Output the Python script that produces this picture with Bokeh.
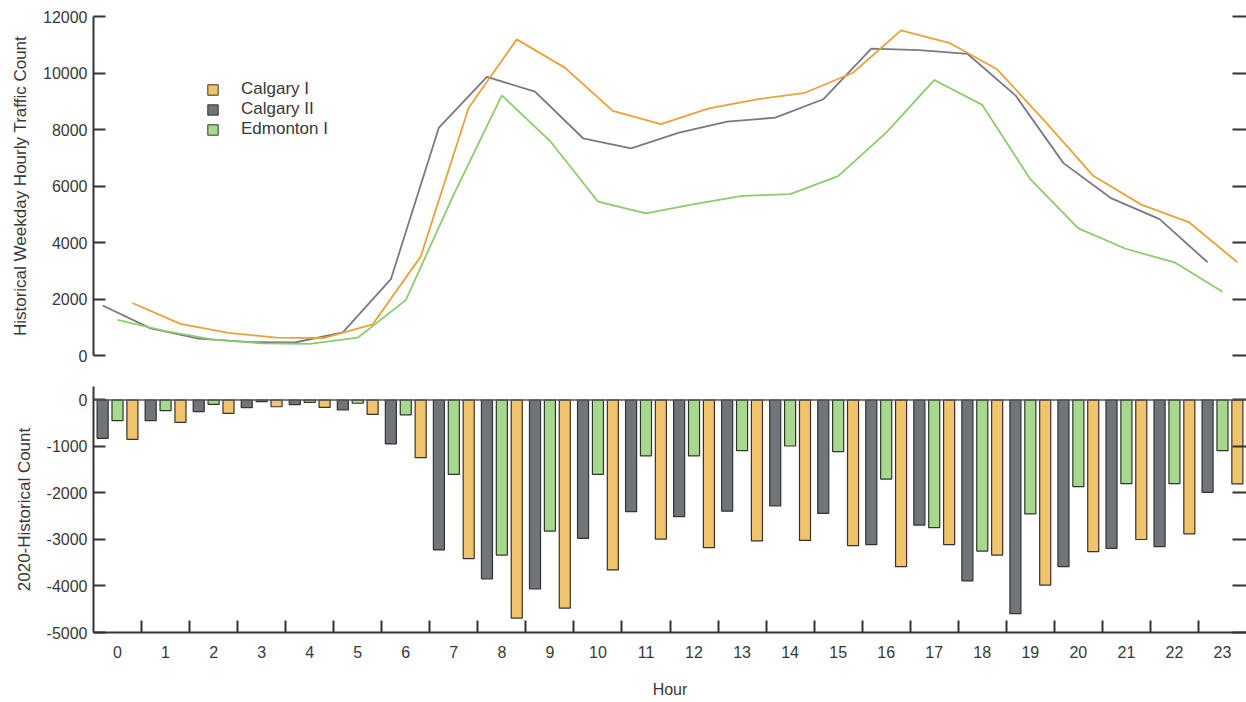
from bokeh.plotting import figure
from bokeh.layouts import column
from bokeh.models import (ColumnDataSource, FixedTicker, LinearAxis, Span,
                          Legend, LegendItem, Range1d)
from bokeh.embed import file_html
from bokeh.resources import INLINE

# Hour of day
hours = list(range(24))
tick_labels = [str(h) for h in hours]

# Historical weekday hourly traffic counts
hist_calgary_1 = [1860, 1120, 800, 630, 620, 1100, 3500, 8770, 11190, 10190, 8660, 8190,
                  8750, 9070, 9300, 10010, 11510, 11070, 10130, 8280, 6360, 5340, 4710, 3300]
hist_calgary_2 = [1770, 960, 600, 480, 460, 820, 2700, 8070, 9860, 9340, 7690, 7330,
                  7890, 8280, 8420, 9070, 10860, 10810, 10680, 9210, 6810, 5560, 4830, 3300]
hist_edmonton_1 = [1260, 860, 560, 430, 410, 630, 1960, 5700, 9210, 7600, 5450, 5030,
                   5360, 5650, 5710, 6350, 7890, 9750, 8870, 6240, 4500, 3770, 3300, 2260]

# 2020 count minus historical count
diff_calgary_1 = [-845, -480, -290, -145, -160, -310, -1240, -3410, -4690, -4475, -3655, -2990,
                  -3175, -3030, -3020, -3130, -3585, -3110, -3335, -3980, -3260, -3000, -2880, -1805]
diff_calgary_2 = [-825, -445, -250, -165, -100, -215, -945, -3225, -3850, -4065, -2975, -2400,
                  -2510, -2390, -2280, -2440, -3110, -2690, -3890, -4595, -3585, -3190, -3155, -1985]
diff_edmonton_1 = [-445, -230, -95, -35, -50, -70, -320, -1600, -3335, -2820, -1600, -1200,
                   -1200, -1090, -990, -1110, -1700, -2745, -3250, -2450, -1865, -1800, -1800, -1090]

top_ticks = [0, 2000, 4000, 6000, 8000, 10000, 12000]
bottom_ticks = [0, -1000, -2000, -3000, -4000, -5000]

FONT = "Liberation Sans"
TEXT = "#383838"
AXIS = "#333333"

# series: name, historical, difference, line colour, bar colour, dodge offset
series = [
    ("Calgary II", hist_calgary_2, diff_calgary_2, "#7b7880", "#717479", -0.31),
    ("Edmonton I", hist_edmonton_1, diff_edmonton_1, "#8dcc6b", "#a7d98c", 0.0),
    ("Calgary I", hist_calgary_1, diff_calgary_1, "#e8a23a", "#f0c46d", 0.31),
]


def style_y_axis(ax, size="16px"):
    ax.axis_line_color = AXIS
    ax.axis_line_width = 2
    ax.major_tick_line_color = AXIS
    ax.major_tick_line_width = 2
    ax.major_tick_in = 12
    ax.major_tick_out = 0
    ax.minor_tick_line_color = None
    ax.major_label_text_font = FONT
    ax.major_label_text_font_size = size
    ax.major_label_text_color = TEXT
    ax.major_label_standoff = 6
    ax.axis_label_text_font = FONT
    ax.axis_label_text_font_size = "17px"
    ax.axis_label_text_font_style = "normal"
    ax.axis_label_text_color = TEXT
    ax.axis_label_standoff = 10


def right_ticks(fig, ticks):
    # tick marks only along the right edge, no labels
    ax = LinearAxis(ticker=FixedTicker(ticks=ticks))
    ax.axis_line_color = None
    ax.major_tick_line_color = AXIS
    ax.major_tick_line_width = 2
    ax.major_tick_in = 14
    ax.major_tick_out = 0
    ax.minor_tick_line_color = None
    ax.major_label_overrides = {t: "" for t in ticks}
    ax.major_label_standoff = 0
    fig.add_layout(ax, "right")


# ---- upper panel: historical hourly counts ----
top = figure(width=1246, height=371, x_range=Range1d(-0.5, 23.5), y_range=Range1d(0, 12000),
             output_backend="svg", toolbar_location=None, x_axis_location=None,
             min_border_left=93, min_border_right=0, min_border_top=16, min_border_bottom=16)
top.outline_line_color = None
top.grid.visible = False
top.yaxis.ticker = FixedTicker(ticks=top_ticks)
top.yaxis.axis_label = "Historical Weekday Hourly Traffic Count"
style_y_axis(top.yaxis[0])
right_ticks(top, top_ticks)

legend_items = {}
for name, hist, diff, lcol, bcol, off in series:
    xs = [h + off for h in hours]
    top.line(xs, hist, line_color=lcol, line_width=1.8)
    # box renderer with no plottable point, used only for the legend swatch
    sw = top.vbar(x=[float("nan")], top=[float("nan")], width=0.2,
                  fill_color=bcol, line_color="#333333", line_width=1)
    legend_items[name] = sw

legend = Legend(items=[LegendItem(label=n, renderers=[legend_items[n]])
                       for n in ["Calgary I", "Calgary II", "Edmonton I"]],
                location=(113, 216))
legend.glyph_width = 13
legend.glyph_height = 13
legend.label_standoff = 22
legend.label_height = 20
legend.spacing = 0
legend.padding = 5
legend.border_line_color = None
legend.background_fill_color = None
legend.label_text_font = FONT
legend.label_text_font_size = "17px"
legend.label_text_color = TEXT
top.add_layout(legend)

# ---- lower panel: 2020 minus historical ----
bottom = figure(width=1246, height=331, x_range=Range1d(-0.5, 23.5), y_range=Range1d(-5000, 290),
                output_backend="svg", toolbar_location=None,
                min_border_left=93, min_border_right=0, min_border_top=15, min_border_bottom=70)
bottom.outline_line_color = None
bottom.grid.visible = False

for name, hist, diff, lcol, bcol, off in series:
    src = ColumnDataSource(dict(x=[h + off for h in hours], top=diff))
    bottom.vbar(x="x", top="top", bottom=0, width=0.23, source=src,
                fill_color=bcol, line_color="#333333", line_width=1.2)

bottom.add_layout(Span(location=0, dimension="width", line_color="#555555", line_width=1.5))

bottom.yaxis.ticker = FixedTicker(ticks=bottom_ticks)
bottom.yaxis.major_label_overrides = {t: str(t) for t in bottom_ticks}
bottom.yaxis.axis_label = "2020-Historical Count"
style_y_axis(bottom.yaxis[0])
right_ticks(bottom, bottom_ticks)

xa = bottom.xaxis[0]
xa.ticker = FixedTicker(ticks=hours, minor_ticks=[h + 0.5 for h in hours[:-1]])
xa.major_label_overrides = {h: lab for h, lab in zip(hours, tick_labels)}
xa.axis_line_color = AXIS
xa.axis_line_width = 2
xa.major_tick_in = 0
xa.major_tick_out = 0
xa.minor_tick_line_color = AXIS
xa.minor_tick_line_width = 2
xa.minor_tick_in = 12
xa.minor_tick_out = 0
xa.major_label_text_font = FONT
xa.major_label_text_font_size = "16px"
xa.major_label_text_color = TEXT
xa.major_label_standoff = 13
xa.axis_label = "Hour"
xa.axis_label_text_font = FONT
xa.axis_label_text_font_size = "16px"
xa.axis_label_text_font_style = "normal"
xa.axis_label_text_color = TEXT
xa.axis_label_standoff = 20

layout = column(top, bottom, spacing=0)
open("out.html", "w").write(file_html(layout, INLINE))
